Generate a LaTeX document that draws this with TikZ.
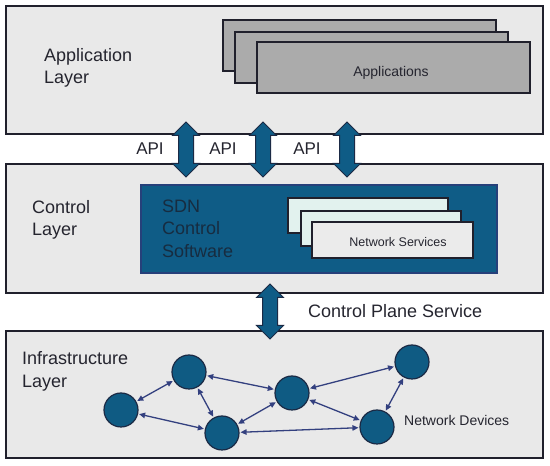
\documentclass[tikz,border=0pt]{standalone}
\usepackage{fontspec}
\setmainfont{Liberation Sans}
\usetikzlibrary{arrows.meta, shapes.arrows}
\definecolor{laybg}{HTML}{E9E9E9}
\definecolor{layline}{HTML}{20202C}
\definecolor{appgray}{HTML}{ABABAB}
\definecolor{sdnblue}{HTML}{0F5C86}
\definecolor{sdnline}{HTML}{26407A}
\definecolor{nsmint}{HTML}{E2F2EE}
\definecolor{nsgray}{HTML}{EBEBEB}
\definecolor{devblue}{HTML}{0F5B83}
\definecolor{devline}{HTML}{1B2A45}
\definecolor{linkcol}{HTML}{33407F}
\definecolor{txt}{HTML}{25252F}
\definecolor{sdntxt}{HTML}{172C40}
\tikzset{
  layer/.style={draw=layline, fill=laybg, line width=1.5pt},
  appbox/.style={draw=layline, fill=appgray, line width=1.2pt},
  nsbox/.style={draw=layline, line width=1.2pt},
  bigarrow/.style={double arrow, rotate=90, draw=devline, fill=sdnblue, line width=1pt,
    inner sep=7pt, minimum height=55pt, minimum width=26pt, double arrow head extend=6pt},
  device/.style={circle, draw=devline, fill=devblue, line width=1.2pt, minimum size=34pt, inner sep=0pt},
  link/.style={{Triangle[length=6pt,width=5.5pt]}-{Triangle[length=6pt,width=5.5pt]}, draw=linkcol,
    line width=1.3pt, shorten <=1pt, shorten >=1pt},
  lbl/.style={text=txt, inner sep=0pt, font=\fontsize{18}{22.5}\selectfont, align=left}
}

\begin{document}
\begin{tikzpicture}[x=1pt, y=1pt]
  \useasboundingbox (0,0) rectangle (550,466);
  \draw[layer] (6,460) rectangle (543,332);
  \draw[layer] (6,302) rectangle (543,173);
  \draw[layer] (6,135) rectangle (543,8);

  \draw[appbox] (223,446) rectangle (496,395);
  \draw[appbox] (235,434) rectangle (508,383);
  \draw[appbox] (257,424) rectangle (530,373);
  \node[text=txt, inner sep=0pt, font=\fontsize{14}{17}\selectfont] (apps) at (391,393.5) {Applications};
  \node[lbl, anchor=west] (applbl) at (44,398) {Application\\Layer};

  \draw[draw=sdnline, fill=sdnblue, line width=1.5pt] (141,281) rectangle (497,193);
  \node[lbl, anchor=west, text=sdntxt] (sdn) at (162,237.5) {SDN\\Control\\Software};
  \draw[nsbox, fill=nsmint] (288,268) rectangle (448,233);
  \draw[nsbox, fill=nsmint] (301,255) rectangle (461,220);
  \draw[nsbox, fill=nsgray] (312,244) rectangle (473,208);
  \node[text=txt, inner sep=0pt, font=\fontsize{12.5}{15}\selectfont] (ns) at (398,224) {Network Services};
  \node[lbl, anchor=west] (ctrllbl) at (32,246) {Control\\Layer};

  \node[bigarrow] (api1) at (186,316.5) {};
  \node[bigarrow] (api2) at (263,316.5) {};
  \node[bigarrow] (api3) at (347,316.5) {};
  \node[lbl, font=\fontsize{17}{20}\selectfont] (api1lbl) at (150,317) {API};
  \node[lbl, font=\fontsize{17}{20}\selectfont] (api2lbl) at (223,317) {API};
  \node[lbl, font=\fontsize{17}{20}\selectfont] (api3lbl) at (307,317) {API};

  \node[bigarrow] (cps) at (270,154.5) {};
  \node[lbl, anchor=west] (cpslbl) at (308,155) {Control Plane Service};

  \node[lbl, anchor=west] (infralbl) at (22,94.5) {Infrastructure\\Layer};
  \node[device] (n1) at (189,94) {};
  \node[device] (n2) at (121,56) {};
  \node[device] (n3) at (292,73) {};
  \node[device] (n4) at (412,104) {};
  \node[device] (n5) at (222,33) {};
  \node[device] (n6) at (377,39) {};
  \draw[link] (n1) -- (n2);
  \draw[link] (n1) -- (n3);
  \draw[link] (n1) -- (n5);
  \draw[link] (n2) -- (n5);
  \draw[link] (n3) -- (n5);
  \draw[link] (n3) -- (n4);
  \draw[link] (n3) -- (n6);
  \draw[link] (n4) -- (n6);
  \draw[link] (n5) -- (n6);
  \node[text=txt, inner sep=0pt, anchor=west, font=\fontsize{14}{17}\selectfont] (devlbl) at (404,46) {Network Devices};
\end{tikzpicture}
\end{document}
